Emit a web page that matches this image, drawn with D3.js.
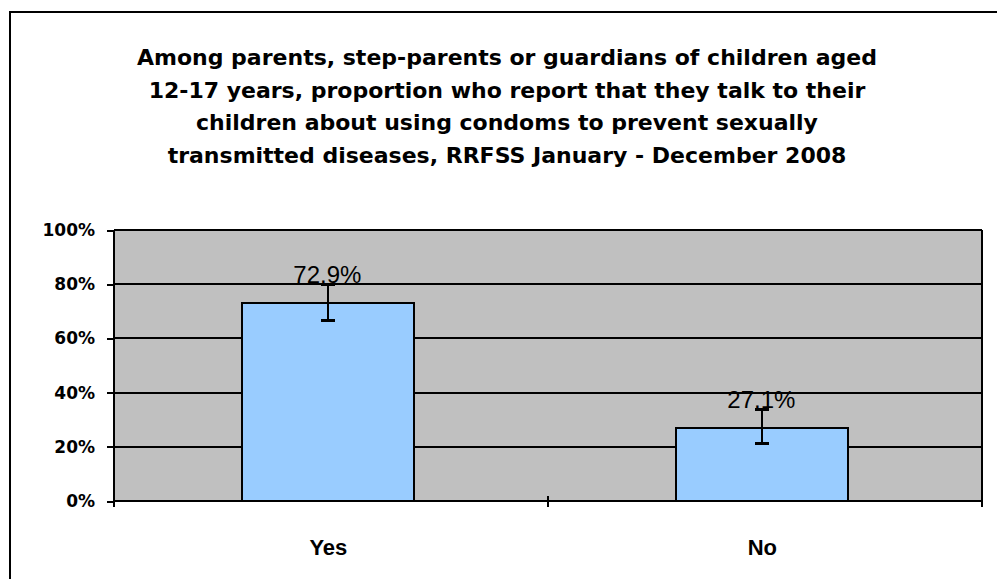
<!DOCTYPE html>
<html>
<head>
<meta charset="utf-8">
<script src="https://cdn.jsdelivr.net/npm/d3@7"></script>
<style>
  html, body { margin: 0; padding: 0; background: #fff; }
  svg { display: block; }
</style>
</head>
<body>
<svg id="chart" width="997" height="579"></svg>
<script>
// ---- data ----
const titleLines = [
  "Among parents, step-parents or guardians of children aged",
  "12-17 years, proportion who report that they talk to their",
  "children about using condoms to prevent sexually",
  "transmitted diseases, RRFSS January - December 2008"
];
const categories = ["Yes", "No"];
const values = [72.9, 27.1];
const ciLower = [66.5, 21.1];
const ciUpper = [80.0, 33.9];
const valueLabels = ["72.9%", "27.1%"];
const yTicks = [0, 20, 40, 60, 80, 100];
const yTickLabels = ["0%", "20%", "40%", "60%", "80%", "100%"];

// ---- layout ----
const svg = d3.select("#chart");
const plot = { left: 114, right: 982, top: 230, bottom: 501 };

// outer frame (top and left edges visible)
svg.append("line").attr("x1", 10).attr("x2", 997).attr("y1", 12).attr("y2", 12)
  .attr("stroke", "#000").attr("stroke-width", 2).attr("shape-rendering", "crispEdges");
svg.append("line").attr("x1", 10).attr("x2", 10).attr("y1", 11).attr("y2", 579)
  .attr("stroke", "#000").attr("stroke-width", 2).attr("shape-rendering", "crispEdges");

// title
svg.append("g").selectAll("text").data(titleLines).join("text")
  .attr("x", 507)
  .attr("y", (d, i) => 65 + i * 32.6)
  .attr("text-anchor", "middle")
  .attr("font-family", "'DejaVu Sans', Verdana, sans-serif")
  .attr("font-weight", "bold")
  .attr("font-size", 22)
  .attr("fill", "#000")
  .text(d => d);

const x = d3.scaleBand().domain(categories).range([plot.left, plot.right])
  .paddingInner(0.604).paddingOuter(0.302).align(0.49);
const y = d3.scaleLinear().domain([0, 100]).range([plot.bottom, plot.top]);

// plot background
svg.append("rect")
  .attr("x", plot.left).attr("y", plot.top)
  .attr("width", plot.right - plot.left).attr("height", plot.bottom - plot.top)
  .attr("fill", "#C0C0C0");

// gridlines
svg.append("g").selectAll("line").data(yTicks.filter(t => t > 0)).join("line")
  .attr("x1", plot.left).attr("x2", plot.right)
  .attr("y1", d => y(d)).attr("y2", d => y(d))
  .attr("stroke", "#000").attr("stroke-width", 2).attr("shape-rendering", "crispEdges");

// right border
svg.append("line").attr("x1", plot.right).attr("x2", plot.right)
  .attr("y1", plot.top).attr("y2", plot.bottom + 6)
  .attr("stroke", "#000").attr("stroke-width", 2).attr("shape-rendering", "crispEdges");

// bars
svg.append("g").selectAll("rect").data(categories).join("rect")
  .attr("x", d => x(d))
  .attr("y", (d, i) => y(values[i]))
  .attr("width", x.bandwidth())
  .attr("height", (d, i) => y(0) - y(values[i]))
  .attr("fill", "#99CCFF")
  .attr("stroke", "#000").attr("stroke-width", 2).attr("shape-rendering", "crispEdges");

// error bars
const eb = svg.append("g");
categories.forEach((c, i) => {
  const cx = x(c) + x.bandwidth() / 2;
  eb.append("line").attr("x1", cx).attr("x2", cx)
    .attr("y1", y(ciUpper[i])).attr("y2", y(ciLower[i]))
    .attr("stroke", "#000").attr("stroke-width", 2).attr("shape-rendering", "crispEdges");
  [ciUpper[i], ciLower[i]].forEach(v => {
    eb.append("line").attr("x1", cx - 7).attr("x2", cx + 7)
      .attr("y1", y(v)).attr("y2", y(v))
      .attr("stroke", "#000").attr("stroke-width", 3).attr("shape-rendering", "crispEdges");
  });
});

// value labels
svg.append("g").selectAll("text").data(categories).join("text")
  .attr("x", d => x(d) + x.bandwidth() / 2 - 1)
  .attr("y", (d, i) => y(values[i]) - 20)
  .attr("text-anchor", "middle")
  .attr("font-family", "'Liberation Sans', Arial, sans-serif")
  .attr("font-size", 24)
  .attr("fill", "#000")
  .text((d, i) => valueLabels[i]);

// y axis
const yAxis = d3.axisLeft(y).tickValues(yTicks)
  .tickFormat((d, i) => yTickLabels[i]).tickSize(7).tickPadding(12);
const gy = svg.append("g").attr("transform", `translate(${plot.left},0)`).call(yAxis);
gy.select(".domain").attr("stroke", "#000").attr("stroke-width", 2)
  .attr("d", `M0,${plot.top}V${plot.bottom + 6}`).attr("shape-rendering", "crispEdges");
gy.selectAll(".tick line").attr("stroke", "#000").attr("stroke-width", 2).attr("shape-rendering", "crispEdges");
gy.selectAll(".tick text")
  .attr("font-family", "'DejaVu Sans', Verdana, sans-serif")
  .attr("font-weight", "bold").attr("font-size", 17).attr("fill", "#000");

// x axis
const xAxis = d3.axisBottom(x).tickSize(0).tickPadding(38);
const gx = svg.append("g").attr("transform", `translate(0,${plot.bottom})`).call(xAxis);
gx.select(".domain").attr("stroke", "#000").attr("stroke-width", 2)
  .attr("d", `M${plot.left},0H${plot.right}`).attr("shape-rendering", "crispEdges");
gx.selectAll(".tick text")
  .attr("font-family", "'Liberation Sans', Arial, sans-serif")
  .attr("font-weight", "bold").attr("font-size", 22).attr("fill", "#000");

// category boundary tick marks
const catW = (plot.right - plot.left) / categories.length;
const boundaries = d3.range(categories.length + 1).map(i => plot.left + i * catW);
gx.append("g").selectAll("line").data(boundaries).join("line")
  .attr("x1", d => d).attr("x2", d => d)
  .attr("y1", -5).attr("y2", 6)
  .attr("stroke", "#000").attr("stroke-width", 2).attr("shape-rendering", "crispEdges");
</script>
</body>
</html>
